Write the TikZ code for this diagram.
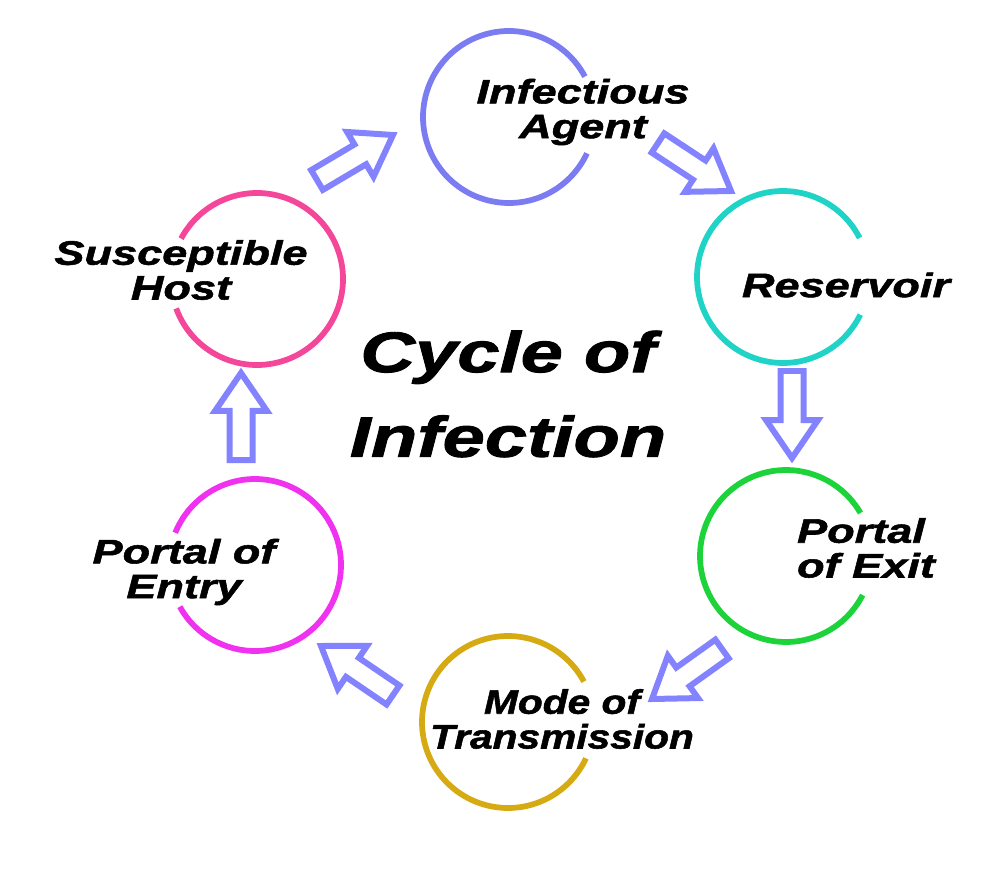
\documentclass[tikz,border=0pt]{standalone}
\usepackage{fontspec}
\usepackage{xcolor}
\usetikzlibrary{calc}
\newfontfamily\stagefont[FakeStretch=1.33, FakeBold=1.6]{Liberation Sans}
\newfontfamily\modefont[FakeStretch=1.2, FakeBold=1.6]{Liberation Sans}
\definecolor{flowblue}{HTML}{8383FF}
\definecolor{agentblue}{HTML}{7B7BF2}
\definecolor{reservoirteal}{HTML}{1FD3C6}
\definecolor{exitgreen}{HTML}{1DD33A}
\definecolor{modegold}{HTML}{D6AA12}
\definecolor{entrymagenta}{HTML}{F032F0}
\definecolor{hostpink}{HTML}{F5479A}
\tikzset{
  ring/.style={line width=0.115cm},
  stage/.style={font=\stagefont\bfseries\itshape\fontsize{19.3}{19.8}\selectfont, align=center, inner sep=0pt},
  modestage/.style={stage, font=\modefont\bfseries\itshape\fontsize{19.3}{19.8}\selectfont},
  title/.style={font=\stagefont\bfseries\itshape\fontsize{32.5}{48.2}\selectfont, align=center, inner sep=0pt},
  flow/.style={draw=flowblue, fill=white, line width=0.12cm, line join=miter}
}
\newcommand{\flowarrow}[2]{%
  \coordinate (#1-#2) at ($(#2)!0.76cm!(#1)$);
  \draw[flow] ($(#1)!0.23cm!90:(#2)$) -- ($(#1-#2)!0.23cm!90:(#2)$) -- ($(#1-#2)!0.52cm!90:(#2)$) -- (#2)
    -- ($(#1-#2)!0.52cm!-90:(#2)$) -- ($(#1-#2)!0.23cm!-90:(#2)$) -- ($(#1)!0.23cm!-90:(#2)$) -- cycle;}

\begin{document}
\begin{tikzpicture}[x=0.02cm, y=-0.02cm]
\useasboundingbox (0,0) rectangle (1000,878);
\coordinate (agent) at (509,117);
\coordinate (reservoir) at (783,277);
\coordinate (exit) at (786,556);
\coordinate (mode) at (508,722);
\coordinate (entry) at (255,565);
\coordinate (host) at (257,279);
\draw[ring, agentblue] ([shift={(28:1.72cm)}]agent) arc[start angle=28, end angle=335, radius=1.72cm];
\draw[ring, reservoirteal] ([shift={(27:1.72cm)}]reservoir) arc[start angle=27, end angle=334, radius=1.72cm];
\draw[ring, exitgreen] ([shift={(30:1.72cm)}]exit) arc[start angle=30, end angle=333, radius=1.72cm];
\draw[ring, modegold] ([shift={(28:1.72cm)}]mode) arc[start angle=28, end angle=335, radius=1.72cm];
\draw[ring, entrymagenta] ([shift={(209:1.72cm)}]entry) arc[start angle=209, end angle=518, radius=1.72cm];
\draw[ring, hostpink] ([shift={(200:1.72cm)}]host) arc[start angle=200, end angle=512, radius=1.72cm];
\node[stage] (agentlabel) at (583,112) {Infectious\\Agent};
\node[stage] (reservoirlabel) at (846,285) {Reservoir};
\node[stage, align=left] (exitlabel) at (866,548) {Portal\\of Exit};
\node[modestage] (modelabel) at (562,719) {Mode of\\Transmission};
\node[stage] (entrylabel) at (184,572) {Portal of\\Entry};
\node[stage] (hostlabel) at (181,270) {Susceptible\\Host};
\node[title] (cycle) at (508,394) {Cycle of\\Infection};
\coordinate (t1) at (317,180); \coordinate (h1) at (393,135);
\coordinate (t2) at (658,143); \coordinate (h2) at (731,191);
\coordinate (t3) at (792,371); \coordinate (h3) at (792,458);
\coordinate (t4) at (722,649); \coordinate (h4) at (652,699);
\coordinate (t5) at (393,695); \coordinate (h5) at (321,646);
\coordinate (t6) at (241,460); \coordinate (h6) at (241,373);
\flowarrow{t1}{h1} \flowarrow{t2}{h2} \flowarrow{t3}{h3}
\flowarrow{t4}{h4} \flowarrow{t5}{h5} \flowarrow{t6}{h6}
\end{tikzpicture}
\end{document}
